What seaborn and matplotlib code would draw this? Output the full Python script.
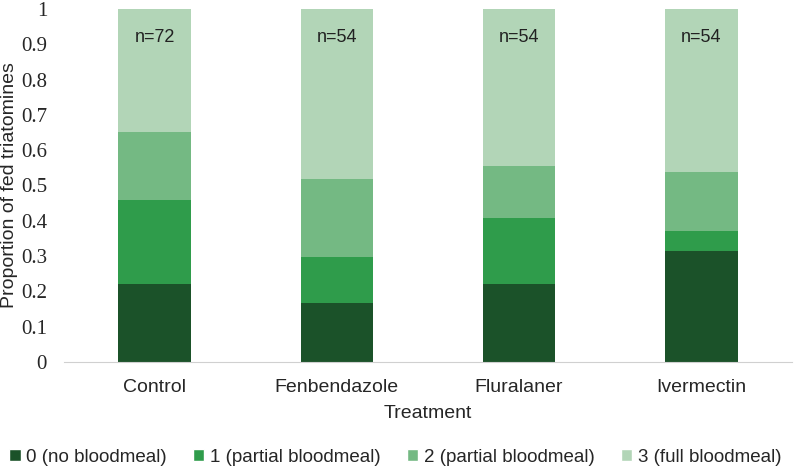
import numpy as np
import pandas as pd
import seaborn as sns
import matplotlib.pyplot as plt
from matplotlib.patches import Patch

treatments = ['Control', 'Fenbendazole', 'Fluralaner', 'Ivermectin']
n_total = [72, 54, 54, 54]
score0 = [16/72, 9/54, 12/54, 17/54]
score1 = [17/72, 7/54, 10/54, 3/54]
score2 = [14/72, 12/54, 8/54, 9/54]
score3 = [25/72, 26/54, 24/54, 25/54]
series_labels = ['0 (no bloodmeal)', '1 (partial bloodmeal)', '2 (partial bloodmeal)', '3 (full bloodmeal)']
colores = ['#1b5229', '#2f9c4b', '#74b983', '#b2d5b7']

sns.set_style('white')
plt.rcParams['font.family'] = ['Liberation Sans', 'DejaVu Sans']

fig = plt.figure(figsize=(7.97, 4.72), dpi=100)
ax = fig.add_axes([0.080, 0.233, 0.914, 0.748])

series = [score0, score1, score2, score3]
bottom = np.zeros(len(treatments))
for vals, lab, col in zip(series, series_labels, colores):
    df = pd.DataFrame({'Treatment': treatments, 'valor': vals})
    sns.barplot(data=df, x='Treatment', y='valor', color=col, width=0.4,
                bottom=bottom, ax=ax, saturation=1, label=lab, linewidth=0)
    bottom = bottom + np.array(vals)

# etiquetas n= arriba de cada barra
for i, n in enumerate(n_total):
    ax.text(i, 0.92, f'n={n}', ha='center', va='center', fontsize=13, color='#222222')

ax.set_ylim(0, 1)
ax.set_yticks(np.arange(0, 1.01, 0.1))
ax.set_yticklabels(['0'] + [f'{v:.1f}' for v in np.arange(0.1, 0.95, 0.1)] + ['1'],
                   fontfamily='Liberation Serif', fontsize=15)
ax.tick_params(axis='x', labelsize=14, length=0, pad=12)
ax.tick_params(axis='y', length=0, pad=12)
ax.set_xlabel('Treatment', fontsize=14, labelpad=7)
ax.set_ylabel('Proportion of fed triatomines', fontsize=14, labelpad=2)
for s in ['top', 'right', 'left']:
    ax.spines[s].set_visible(False)
ax.spines['bottom'].set_color('#d0d0d0')
ax.set_xlim(-0.5, 3.5)

handles = [Patch(facecolor=c, label=l) for c, l in zip(colores, series_labels)]
ax.legend(handles=handles, loc='center', bbox_to_anchor=(0.455, -0.27), ncol=4,
          frameon=False, handlelength=0.6, handleheight=0.6,
          handletextpad=0.3, columnspacing=1.4,
          prop={'family': 'Liberation Sans', 'size': 13.5})

fig.savefig('out.png', dpi=100)
